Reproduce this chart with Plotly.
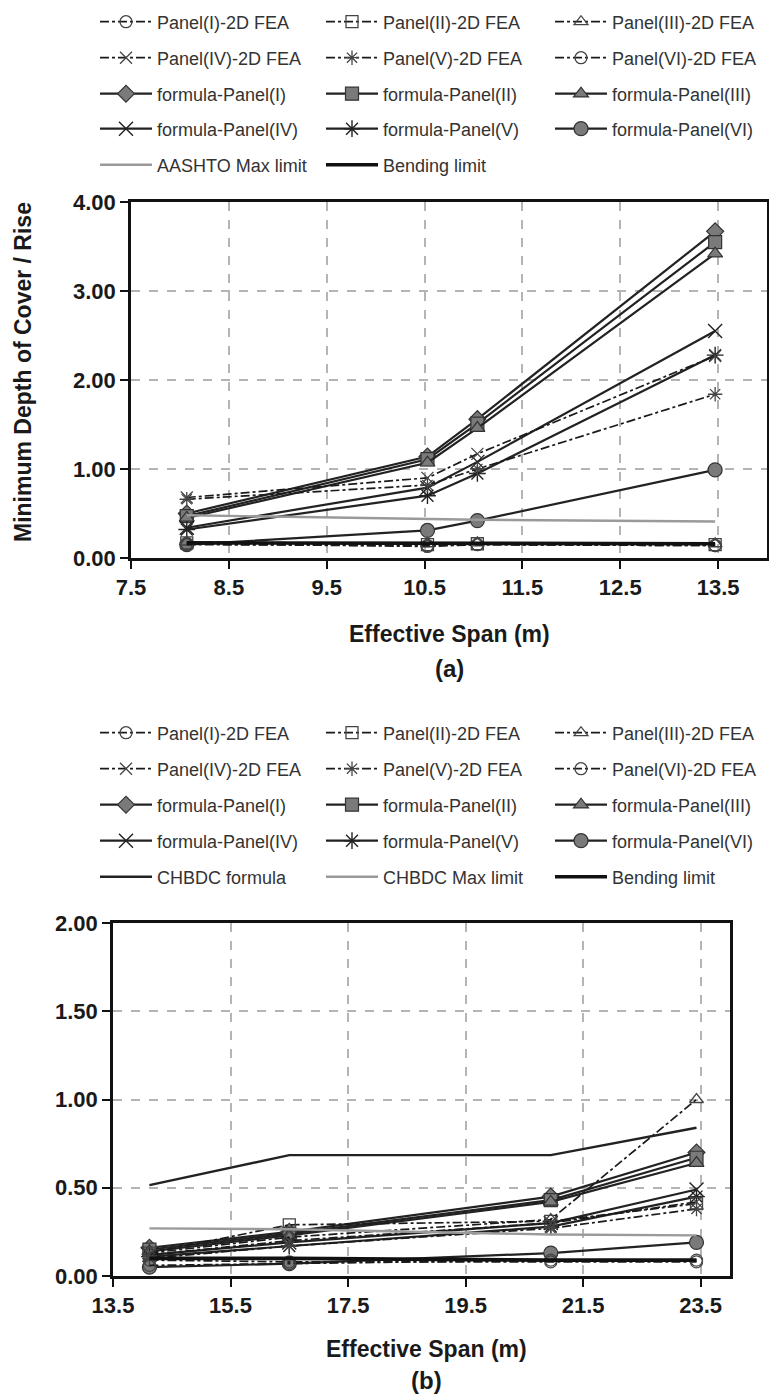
import plotly.graph_objects as go

W, H = 769, 1397

# ---------------- data: chart (a) ----------------
span_a = [8.07, 10.53, 11.04, 13.47]
fea_I_a = [0.16, 0.13, 0.15, 0.14]
fea_II_a = [0.17, 0.15, 0.16, 0.15]
fea_III_a = [0.18, 0.16, 0.17, 0.16]
fea_IV_a = [0.68, 0.90, 1.17, 2.27]
fea_V_a = [0.66, 0.82, 1.00, 1.84]
fea_VI_a = [0.15, 0.14, 0.15, 0.14]
formula_I_a = [0.50, 1.14, 1.56, 3.67]
formula_II_a = [0.47, 1.11, 1.51, 3.55]
formula_III_a = [0.45, 1.07, 1.46, 3.42]
formula_IV_a = [0.34, 0.79, 1.08, 2.55]
formula_V_a = [0.32, 0.70, 0.95, 2.28]
formula_VI_a = [0.15, 0.31, 0.42, 0.99]
aashto_max_a = [0.48, 0.44, 0.43, 0.41]
bending_a = [0.17, 0.17, 0.17, 0.16]

# ---------------- data: chart (b) ----------------
span_b = [14.12, 16.50, 20.95, 23.43]
fea_I_b = [0.09, 0.08, 0.08, 0.08]
fea_II_b = [0.13, 0.29, 0.31, 0.41]
fea_III_b = [0.13, 0.22, 0.32, 1.00]
fea_IV_b = [0.12, 0.20, 0.30, 0.42]
fea_V_b = [0.10, 0.17, 0.27, 0.38]
fea_VI_b = [0.06, 0.07, 0.09, 0.09]
formula_I_b = [0.16, 0.25, 0.45, 0.70]
formula_II_b = [0.15, 0.24, 0.43, 0.67]
formula_III_b = [0.14, 0.23, 0.42, 0.64]
formula_IV_b = [0.12, 0.19, 0.30, 0.49]
formula_V_b = [0.11, 0.17, 0.28, 0.45]
formula_VI_b = [0.05, 0.07, 0.13, 0.19]
chbdc_formula_b = [0.515, 0.685, 0.685, 0.84]
chbdc_max_b = [0.27, 0.265, 0.235, 0.23]
bending_b = [0.10, 0.10, 0.09, 0.09]

fea_names = ["Panel(I)-2D FEA", "Panel(II)-2D FEA", "Panel(III)-2D FEA",
             "Panel(IV)-2D FEA", "Panel(V)-2D FEA", "Panel(VI)-2D FEA"]
formula_names = ["formula-Panel(I)", "formula-Panel(II)", "formula-Panel(III)",
                 "formula-Panel(IV)", "formula-Panel(V)", "formula-Panel(VI)"]
fea_symbols = ["circle-open", "square-open", "triangle-up-open", "x-thin-open", "asterisk-open", "circle-open"]
formula_symbols = ["diamond", "square", "triangle-up", "x-thin", "asterisk", "circle"]

FONT = "Liberation Sans, Arial, sans-serif"

fig = go.Figure()
legend_layouts = {}
legend_counter = [0]

def new_legend(px_x, px_y):
    legend_counter[0] += 1
    n = legend_counter[0]
    key = "legend" if n == 1 else f"legend{n}"
    legend_layouts[key] = dict(
        x=(px_x - 2) / W, y=1 - px_y / H, xanchor="left", yanchor="middle",
        orientation="h", bgcolor="rgba(0,0,0,0)", borderwidth=0,
        font=dict(family=FONT, size=18, color="#333"), itemwidth=52,
        tracegroupgap=0,
    )
    return key

def add(xs, ys, name, axis, legpos, mode, line, marker=None):
    key = new_legend(*legpos)
    fig.add_trace(go.Scatter(
        x=xs, y=ys, name=name, mode=mode, line=line, marker=marker,
        xaxis="x" if axis == 1 else "x2", yaxis="y" if axis == 1 else "y2",
        legend=key, showlegend=True,
    ))

cols = [97, 323, 552]

def panel(axis, span, feas, forms, rows_y, extras):
    for i, (vals, nm, sym) in enumerate(zip(forms, formula_names, formula_symbols)):
        r = 2 + i // 3
        c = i % 3
        mk = dict(symbol=sym, size=13 if sym != "circle" else 14, color="#7a7a7a",
                  line=dict(color="#333", width=1.2))
        if sym in ("x-thin", "asterisk"):
            mk = dict(symbol=sym + "-open", size=14, color="#222", line=dict(color="#222", width=1.4))
        add(span, vals, nm, axis, (cols[c], rows_y[r]), "lines+markers",
            dict(color="#222", width=2.2), mk)
    for i, (vals, nm, sym) in enumerate(zip(feas, fea_names, fea_symbols)):
        r = i // 3
        c = i % 3
        mk = dict(symbol=sym, size=12, color="#444", line=dict(color="#444", width=1.3))
        add(span, vals, nm, axis, (cols[c], rows_y[r]), "lines+markers",
            dict(color="#1a1a1a", width=1.7, dash="dashdot"), mk)
    for j, (vals, nm, ln) in enumerate(extras):
        add(span, vals, nm, axis, (cols[j], rows_y[4]), "lines", ln)

rows_a = [22, 58, 94, 129, 165]
rows_b = [733, 769, 805, 841, 877]

panel(1, span_a,
      [fea_I_a, fea_II_a, fea_III_a, fea_IV_a, fea_V_a, fea_VI_a],
      [formula_I_a, formula_II_a, formula_III_a, formula_IV_a, formula_V_a, formula_VI_a],
      rows_a,
      [(aashto_max_a, "AASHTO Max limit", dict(color="#9a9a9a", width=2.4)),
       (bending_a, "Bending limit", dict(color="#111", width=3.6))])

panel(2, span_b,
      [fea_I_b, fea_II_b, fea_III_b, fea_IV_b, fea_V_b, fea_VI_b],
      [formula_I_b, formula_II_b, formula_III_b, formula_IV_b, formula_V_b, formula_VI_b],
      rows_b,
      [(chbdc_formula_b, "CHBDC formula", dict(color="#222", width=2.4)),
       (chbdc_max_b, "CHBDC Max limit", dict(color="#9a9a9a", width=2.4)),
       (bending_b, "Bending limit", dict(color="#111", width=3.6))])

tickfont = dict(family=FONT, size=22, color="#1a1a1a", weight="bold")
common_axis = dict(showline=True, linecolor="#111", linewidth=2.6, mirror=True,
                   ticks="outside", ticklen=8, tickwidth=2.2, tickcolor="#111",
                   showgrid=True, gridcolor="#b4b4b4", gridwidth=2, griddash="dash",
                   zeroline=False, tickfont=tickfont, automargin=False)

# pixel-derived domains
ax_a = dict(l=131, r=767, t=202, b=558)
ax_b = dict(l=113, r=730, t=923, b=1276)

layout = dict(
    template="none",
    width=W, height=H, margin=dict(l=0, r=0, t=0, b=0, pad=0, autoexpand=False),
    paper_bgcolor="white", plot_bgcolor="white",
    xaxis=dict(common_axis, domain=[ax_a["l"] / W, ax_a["r"] / W], range=[7.5, 14.0],
               tick0=7.5, dtick=1, tickformat=".1f", anchor="y"),
    yaxis=dict(common_axis, domain=[1 - ax_a["b"] / H, 1 - ax_a["t"] / H], range=[0, 4],
               dtick=1, tickformat=".2f", anchor="x"),
    xaxis2=dict(common_axis, domain=[ax_b["l"] / W, ax_b["r"] / W], range=[13.5, 24.0],
                tick0=13.5, dtick=2, tickformat=".1f", anchor="y2"),
    yaxis2=dict(common_axis, domain=[1 - ax_b["b"] / H, 1 - ax_b["t"] / H], range=[0, 2],
                dtick=0.5, tickformat=".2f", anchor="x2"),
    showlegend=True,
)
layout.update(legend_layouts)

titlefont = dict(family=FONT, size=23, color="#1a1a1a", weight="bold")
labfont = dict(family=FONT, size=24, color="#1a1a1a", weight="bold")
annotations = [
    dict(text="Minimum Depth of Cover / Rise", x=23 / W, y=1 - 372 / H, xref="paper", yref="paper",
         textangle=-90, showarrow=False, font=titlefont, xanchor="center", yanchor="middle"),
    dict(text="Effective Span (m)", x=449 / W, y=1 - 634 / H, xref="paper", yref="paper",
         showarrow=False, font=titlefont, xanchor="center", yanchor="middle"),
    dict(text="(a)", x=449 / W, y=1 - 668 / H, xref="paper", yref="paper",
         showarrow=False, font=labfont, xanchor="center", yanchor="middle"),
    dict(text="Effective Span (m)", x=426 / W, y=1 - 1349 / H, xref="paper", yref="paper",
         showarrow=False, font=titlefont, xanchor="center", yanchor="middle"),
    dict(text="(b)", x=426 / W, y=1 - 1380 / H, xref="paper", yref="paper",
         showarrow=False, font=labfont, xanchor="center", yanchor="middle"),
]
layout["annotations"] = annotations
fig.update_layout(**layout)

fig.write_html("out.html")
